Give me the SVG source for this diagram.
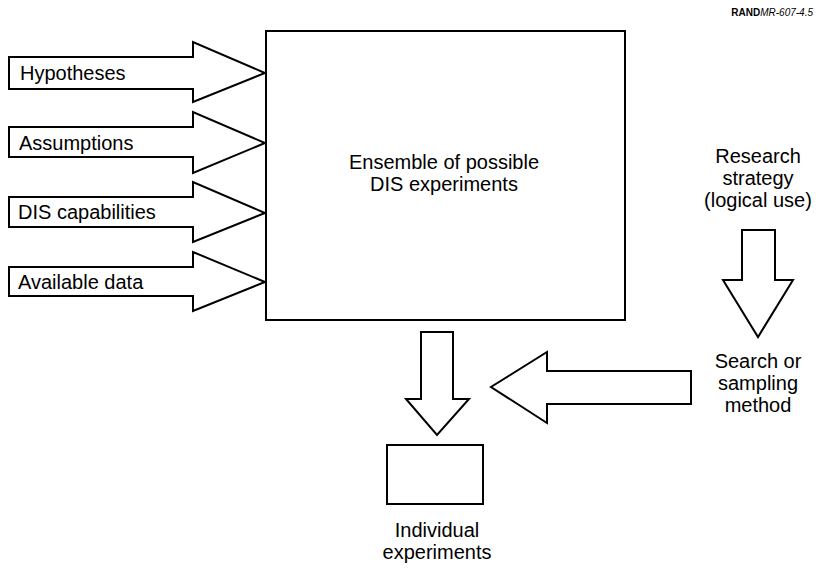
<svg xmlns="http://www.w3.org/2000/svg" width="816" height="569" viewBox="0 0 816 569">
<style>
.shape{fill:#fff;stroke:#000;stroke-width:2;stroke-linejoin:miter}
.t{font-family:"Liberation Sans",Arial,sans-serif;font-size:20px;fill:#000}
.c{text-anchor:middle}
</style>
<rect width="816" height="569" fill="#fff"/>
<text x="813" y="16" text-anchor="end" font-family="'Liberation Sans',Arial,sans-serif" font-size="10" fill="#000"><tspan font-weight="bold">RAND</tspan><tspan font-style="italic">MR-607-4.5</tspan></text>
<g id="connectors">
<polygon id="arrow-hypotheses" class="shape" points="9,57 193,57 193,42 265,73 193,102 193,89 9,89"/>
<polygon id="arrow-assumptions" class="shape" points="9,127 193,127 193,112 265,143 193,173 193,157 9,157"/>
<polygon id="arrow-dis" class="shape" points="9,197 193,197 193,182 265,213 193,242 193,227 9,227"/>
<polygon id="arrow-data" class="shape" points="9,267 193,267 193,252 265,282 193,311 193,296 9,296"/>
<polygon id="arrow-down-box" class="shape" points="421,332 453,332 453,399 469,399 437,435 406,399 421,399"/>
<polygon id="arrow-down-strategy" class="shape" points="742,230 775,230 775,280 793,280 758,337 723,280 742,280"/>
<polygon id="arrow-left-search" class="shape" points="691,371 691,404 547,404 547,423 491,387 547,352 547,371"/>
</g>
<g id="label-hypotheses"><text class="t" x="20" y="80">Hypotheses</text></g>
<g id="label-assumptions"><text class="t" x="19" y="150">Assumptions</text></g>
<g id="label-dis"><text class="t" x="18" y="219">DIS capabilities</text></g>
<g id="label-data"><text class="t" x="18" y="289">Available data</text></g>
<g id="ensemble">
<rect class="shape" x="266" y="31" width="359" height="289"/>
<text class="t c" x="444" y="169">Ensemble of possible</text>
<text class="t c" x="444" y="191">DIS experiments</text>
</g>
<g id="research">
<text class="t c" x="758" y="163">Research</text>
<text class="t c" x="758" y="185">strategy</text>
<text class="t c" x="758" y="207">(logical use)</text>
</g>
<g id="search">
<text class="t c" x="758" y="368">Search or</text>
<text class="t c" x="758" y="390">sampling</text>
<text class="t c" x="758" y="412">method</text>
</g>
<g id="individual">
<rect class="shape" x="387" y="445" width="96" height="59"/>
<text class="t c" x="437" y="537">Individual</text>
<text class="t c" x="437" y="559">experiments</text>
</g>
</svg>
